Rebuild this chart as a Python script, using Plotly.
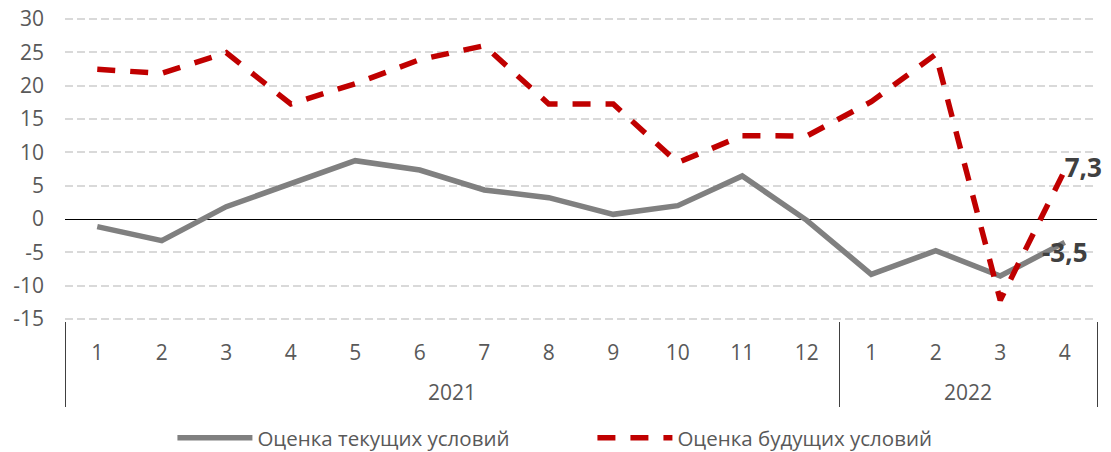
import plotly.graph_objects as go

years = ["<br>2021"] * 12 + ["<br>2022"] * 4
months = ["1", "2", "3", "4", "5", "6", "7", "8", "9", "10", "11", "12", "1", "2", "3", "4"]

current = [-1.15, -3.25, 1.85, 5.4, 8.75, 7.35, 4.35, 3.2, 0.7, 2.0, 6.45, -0.2, -8.3, -4.75, -8.55, -3.5]
future = [22.45, 21.85, 24.95, 17.25, 20.3, 23.9, 26.0, 17.25, 17.25, 8.45, 12.5, 12.45, 17.6, 24.7, -12.2, 7.3]

y_tickvals = [-15, -10, -5, 0, 5, 10, 15, 20, 25, 30]
y_ticktext = ["-15", "-10", "-5", "0", "5", "10", "15", "20", "25", "30"]

name_current = "Оценка текущих условий"
name_future = "Оценка будущих условий"

label_current = [""] * 15 + ["-3,5"]
label_future = [""] * 15 + ["7,3"]

FONT = "Open Sans"
TICK_COLOR = "#595959"

fig = go.Figure()
fig.add_trace(go.Scatter(
    x=[years, months], y=current, name=name_current, mode="lines+text",
    line=dict(color="#808080", width=5.5),
    text=label_current, textposition="bottom center",
    textfont=dict(family=FONT, size=26, color="#404040", weight="bold"),
    cliponaxis=False,
))
fig.add_trace(go.Scatter(
    x=[years, months], y=future, name=name_future, mode="lines+text",
    line=dict(color="#c00000", width=5.5, dash="18px,15px"),
    text=label_future, textposition="middle right",
    textfont=dict(family=FONT, size=26, color="#404040", weight="bold"),
    cliponaxis=False,
))

fig.update_layout(
    width=1111, height=452,
    margin=dict(l=57, r=22, t=9, b=139),
    plot_bgcolor="white", paper_bgcolor="white",
    font=dict(family=FONT, size=21, color=TICK_COLOR),
    showlegend=True,
    legend=dict(orientation="h", xref="container", yref="container",
                x=0.148, xanchor="left", y=0.049, yanchor="middle",
                entrywidth=330, font=dict(family=FONT, size=20.5, color=TICK_COLOR),
                itemwidth=75),
)
fig.update_yaxes(
    range=[-15.3, 30.3], tickmode="array", tickvals=y_tickvals, ticktext=y_ticktext,
    automargin=False, ticklabeloverflow="allow",
    showgrid=True, gridcolor="#d9d9d9", gridwidth=1.5, griddash="8px,4px",
    zeroline=True, zerolinecolor="#000000", zerolinewidth=1,
    showline=False, ticks="", ticklabelstandoff=20,
    tickfont=dict(family=FONT, size=21, color=TICK_COLOR),
)
fig.update_xaxes(
    type="multicategory", range=[-0.5, 15.5],
    showgrid=False, showline=False, zeroline=False, automargin=False,
    showdividers=True, dividercolor="#404040", dividerwidth=1,
    ticklabelstandoff=17,
    tickfont=dict(family=FONT, size=21, color=TICK_COLOR), ticks="",
)

fig.write_html("out.html")
